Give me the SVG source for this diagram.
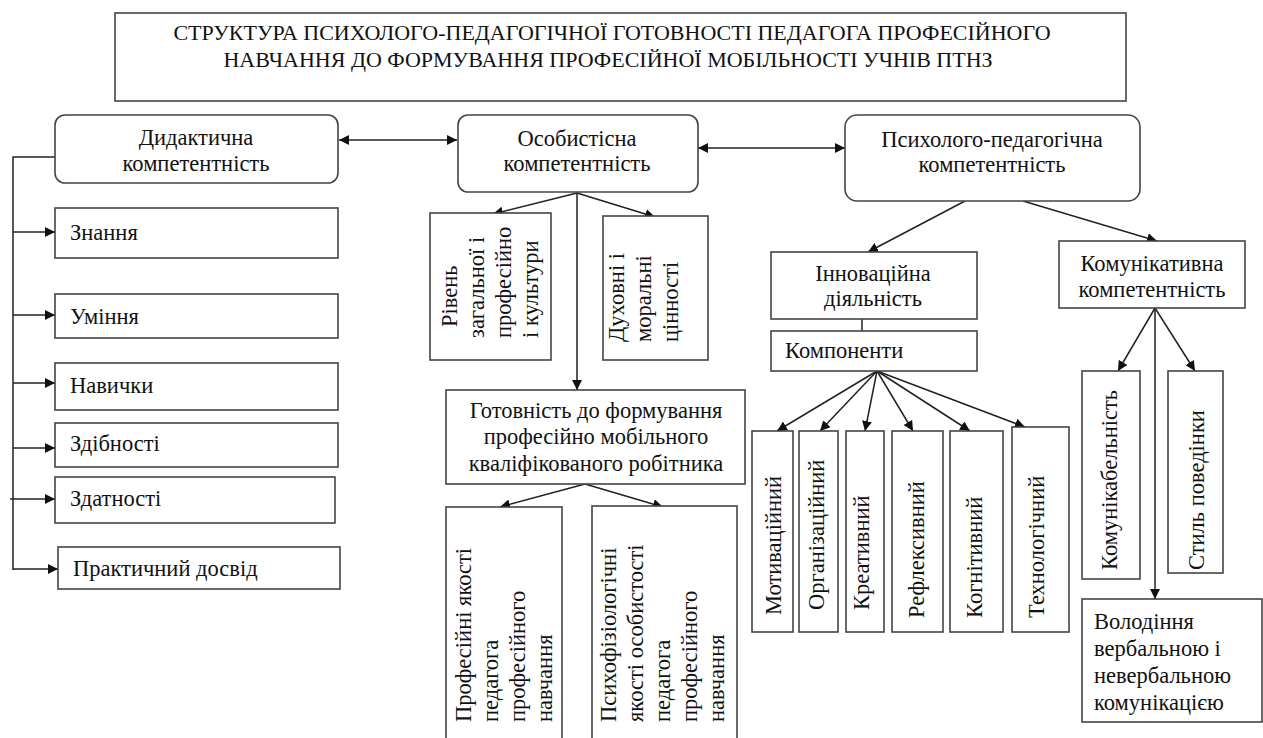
<svg xmlns="http://www.w3.org/2000/svg" width="1263" height="738" viewBox="0 0 1263 738">
<style>
.b{fill:#fff;stroke:#444;stroke-width:1.6}
.t{font-family:"Liberation Serif","Times New Roman",serif;font-size:22.5px;fill:#111}
.c{text-anchor:middle}
.ti{font-family:"Liberation Serif","Times New Roman",serif;font-size:22px;fill:#111;text-anchor:middle}
.l{fill:none;stroke:#222;stroke-width:1.5}
</style>
<defs>
<marker id="ah" markerUnits="userSpaceOnUse" markerWidth="12" markerHeight="10" refX="10" refY="5" orient="auto">
<path d="M0,0 L10,5 L0,10 Z" fill="#111"/>
</marker>
<marker id="as" markerUnits="userSpaceOnUse" markerWidth="12" markerHeight="10" refX="0" refY="5" orient="auto">
<path d="M10,0 L0,5 L10,10 Z" fill="#111"/>
</marker>
</defs>
<rect width="1263" height="738" fill="#fff"/>

<g id="title">
<rect class="b" x="115" y="13" width="1011" height="88"/>
<text class="ti" x="612" y="40">СТРУКТУРА ПСИХОЛОГО-ПЕДАГОГІЧНОЇ ГОТОВНОСТІ ПЕДАГОГА ПРОФЕСІЙНОГО</text>
<text class="ti" x="608" y="67">НАВЧАННЯ ДО ФОРМУВАННЯ ПРОФЕСІЙНОЇ МОБІЛЬНОСТІ УЧНІВ ПТНЗ</text>
</g>

<g id="connectors">
<path class="l" d="M55,157 H13 V570"/>
<path class="l" d="M13,232 H55" marker-end="url(#ah)"/>
<path class="l" d="M13,315 H55" marker-end="url(#ah)"/>
<path class="l" d="M13,383 H55" marker-end="url(#ah)"/>
<path class="l" d="M13,448 H55" marker-end="url(#ah)"/>
<path class="l" d="M10,499 H55" marker-end="url(#ah)"/>
<path class="l" d="M13,569 H58" marker-end="url(#ah)"/>
<path class="l" d="M339,140 H457" marker-start="url(#as)" marker-end="url(#ah)"/>
<path class="l" d="M698,148 H845" marker-start="url(#as)" marker-end="url(#ah)"/>
<path class="l" d="M577,193 L493,214" marker-end="url(#ah)"/>
<path class="l" d="M577,193 L655,217" marker-end="url(#ah)"/>
<path class="l" d="M577,193 V390" marker-end="url(#ah)"/>
<path class="l" d="M585,484 L500,507" marker-end="url(#ah)"/>
<path class="l" d="M585,484 L663,507" marker-end="url(#ah)"/>
<path class="l" d="M965,201 L868,252" marker-end="url(#ah)"/>
<path class="l" d="M1023,201 L1157,241" marker-end="url(#ah)"/>
<path class="l" d="M862,319 V331"/>
<path class="l" d="M877,371 L777,431" marker-end="url(#ah)"/>
<path class="l" d="M877,371 L820,431" marker-end="url(#ah)"/>
<path class="l" d="M877,371 L865,431" marker-end="url(#ah)"/>
<path class="l" d="M877,371 L913,431" marker-end="url(#ah)"/>
<path class="l" d="M877,371 L970,431" marker-end="url(#ah)"/>
<path class="l" d="M877,371 L1025,427" marker-end="url(#ah)"/>
<path class="l" d="M1155,308 L1118,371" marker-end="url(#ah)"/>
<path class="l" d="M1155,308 L1195,371" marker-end="url(#ah)"/>
<path class="l" d="M1155,308 V599" marker-end="url(#ah)"/>
</g>

<g id="didaktychna">
<rect class="b" x="55" y="115" width="283" height="68" rx="10"/>
<text class="t c" x="196" y="145">Дидактична</text>
<text class="t c" x="196" y="171">компетентність</text>
</g>
<g id="znannia"><rect class="b" x="55" y="208" width="283" height="50"/><text class="t" x="70" y="240">Знання</text></g>
<g id="uminnia"><rect class="b" x="55" y="294" width="283" height="44"/><text class="t" x="70" y="324">Уміння</text></g>
<g id="navychky"><rect class="b" x="55" y="363" width="283" height="47"/><text class="t" x="70" y="393">Навички</text></g>
<g id="zdibnosti"><rect class="b" x="55" y="423" width="283" height="44"/><text class="t" x="70" y="451">Здібності</text></g>
<g id="zdatnosti"><rect class="b" x="55" y="477" width="280" height="46"/><text class="t" x="70" y="506">Здатності</text></g>
<g id="dosvid"><rect class="b" x="58" y="547" width="282" height="42"/><text class="t" x="73" y="576">Практичний досвід</text></g>

<g id="osobystisna">
<rect class="b" x="458" y="115" width="240" height="77" rx="10"/>
<text class="t c" x="577" y="146">Особистісна</text>
<text class="t c" x="577" y="171">компетентність</text>
</g>
<g id="riven">
<rect class="b" x="430" y="213" width="121" height="147"/>
<text class="t" transform="translate(457,327) rotate(-90)">Рівень</text>
<text class="t" transform="translate(484,338) rotate(-90)">загальної і</text>
<text class="t" transform="translate(511,338) rotate(-90)">професійно</text>
<text class="t" transform="translate(538,338) rotate(-90)">і культури</text>
</g>
<g id="dukhovni">
<rect class="b" x="603" y="216" width="105" height="144"/>
<text class="t" transform="translate(624,342) rotate(-90)">Духовні і</text>
<text class="t" transform="translate(651,342) rotate(-90)">моральні</text>
<text class="t" transform="translate(678,342) rotate(-90)">цінності</text>
</g>
<g id="gotovnist">
<rect class="b" x="446" y="390" width="299" height="94"/>
<text class="t c" x="596" y="418">Готовність до формування</text>
<text class="t c" x="596" y="444">професійно мобільного</text>
<text class="t c" x="596" y="471">кваліфікованого робітника</text>
</g>
<g id="profesiini">
<rect class="b" x="446" y="507" width="116" height="232"/>
<text class="t" transform="translate(471,722) rotate(-90)">Професійні якості</text>
<text class="t" transform="translate(498,722) rotate(-90)">педагога</text>
<text class="t" transform="translate(525,722) rotate(-90)">професійного</text>
<text class="t" transform="translate(552,722) rotate(-90)">навчання</text>
</g>
<g id="psykhofiziologichni">
<rect class="b" x="592" y="506" width="145" height="233"/>
<text class="t" transform="translate(616,722) rotate(-90)">Психофізіологічні</text>
<text class="t" transform="translate(643,722) rotate(-90)">якості особистості</text>
<text class="t" transform="translate(670,722) rotate(-90)">педагога</text>
<text class="t" transform="translate(697,722) rotate(-90)">професійного</text>
<text class="t" transform="translate(724,722) rotate(-90)">навчання</text>
</g>

<g id="psykholoho">
<rect class="b" x="845" y="115" width="295" height="86" rx="12"/>
<text class="t c" x="992" y="147">Психолого-педагогічна</text>
<text class="t c" x="992" y="172">компетентність</text>
</g>
<g id="innovatsiina">
<rect class="b" x="771" y="252" width="206" height="67"/>
<text class="t c" x="873" y="281">Інноваційна</text>
<text class="t c" x="873" y="306">діяльність</text>
</g>
<g id="komponenty">
<rect class="b" x="771" y="331" width="206" height="40"/>
<text class="t" x="785" y="358">Компоненти</text>
</g>
<g id="motyvatsiinyi"><rect class="b" x="752" y="431" width="41" height="201"/><text class="t" transform="translate(781,615) rotate(-90)">Мотиваційний</text></g>
<g id="orhanizatsiinyi"><rect class="b" x="799" y="431" width="39" height="201"/><text class="t" transform="translate(824,610) rotate(-90)">Організаційний</text></g>
<g id="kreatyvnyi"><rect class="b" x="846" y="431" width="38" height="201"/><text class="t" transform="translate(869,610) rotate(-90)">Креативний</text></g>
<g id="refleksyvnyi"><rect class="b" x="892" y="431" width="51" height="201"/><text class="t" transform="translate(924,618) rotate(-90)">Рефлексивний</text></g>
<g id="kohnityvnyi"><rect class="b" x="950" y="431" width="53" height="201"/><text class="t" transform="translate(982,618) rotate(-90)">Когнітивний</text></g>
<g id="tekhnolohichnyi"><rect class="b" x="1012" y="427" width="57" height="205"/><text class="t" transform="translate(1044,618) rotate(-90)">Технологічний</text></g>

<g id="komunikatyvna">
<rect class="b" x="1059" y="241" width="186" height="67"/>
<text class="t c" x="1152" y="271">Комунікативна</text>
<text class="t c" x="1152" y="297">компетентність</text>
</g>
<g id="komunikabelnist"><rect class="b" x="1082" y="371" width="58" height="208"/><text class="t" transform="translate(1117,570) rotate(-90)">Комунікабельність</text></g>
<g id="styl"><rect class="b" x="1168" y="371" width="55" height="202"/><text class="t" transform="translate(1204,570) rotate(-90)">Стиль поведінки</text></g>
<g id="volodinnia">
<rect class="b" x="1082" y="599" width="180" height="123"/>
<text class="t" x="1094" y="629">Володіння</text>
<text class="t" x="1094" y="656">вербальною і</text>
<text class="t" x="1094" y="683">невербальною</text>
<text class="t" x="1094" y="710">комунікацією</text>
</g>
</svg>
